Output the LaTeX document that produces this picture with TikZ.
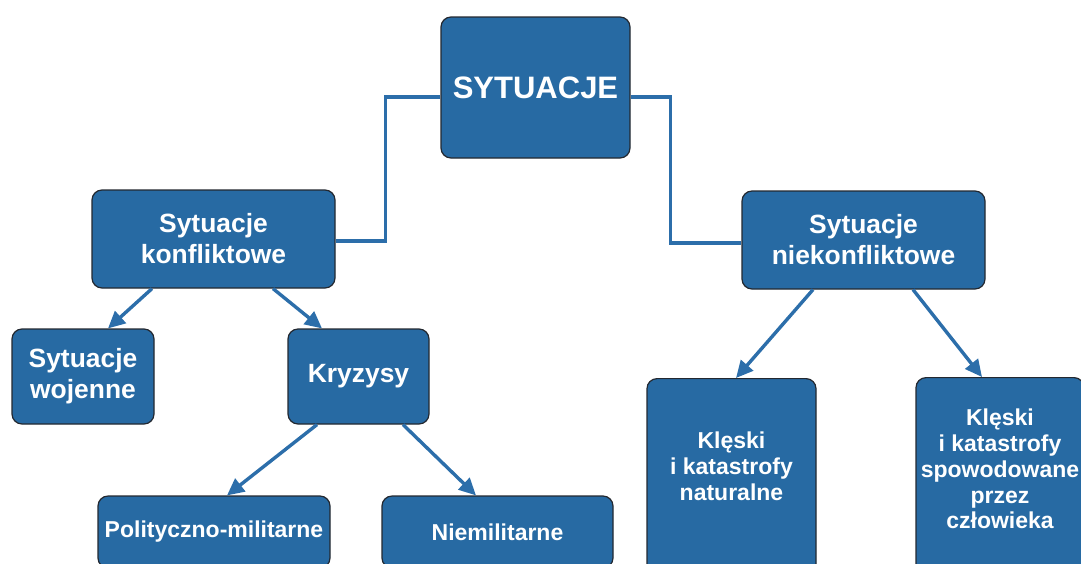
\documentclass[tikz,border=0pt]{standalone}
\usepackage{fontspec}
\setmainfont{Liberation Sans}
\usetikzlibrary{arrows.meta, positioning}
\definecolor{boxblue}{RGB}{39,106,163}
\definecolor{linkblue}{RGB}{44,110,170}
\definecolor{boxedge}{RGB}{35,40,48}

\begin{document}
\begin{tikzpicture}[x=0.5pt, y=-0.5pt,
    box/.style={draw=boxedge, line width=0.6pt, fill=boxblue, rounded corners=5pt, text=white, font=\bfseries\fontsize{13.2}{15.5}\selectfont, align=center, inner sep=0pt},
    small/.style={font=\bfseries\fontsize{11.5}{12.9}\selectfont},
    boxtext/.style={small, text=white, align=center, inner sep=0pt},
    link/.style={linkblue, line width=1.7pt},
    arrow/.style={link, -{Triangle[length=8.5pt, width=8pt]}}
  ]
  \clip (0,0) rectangle (1081,563);
  % top level
  \node[box, minimum width=94.5pt, minimum height=70.5pt, font=\bfseries\fontsize{15.5}{18}\selectfont] (root) at (535.5,87.5) {SYTUACJE};
  \node[box, minimum width=121.5pt, minimum height=49pt] (konf) at (213.5,239) {Sytuacje\\konfliktowe};
  \node[box, minimum width=121.5pt, minimum height=49pt] (niekonf) at (863.5,240) {Sytuacje\\niekonfliktowe};
  % left branch
  \node[box, minimum width=71pt, minimum height=47.5pt] (wojenne) at (83,376.5) {Sytuacje\\wojenne};
  \node[box, minimum width=70.5pt, minimum height=47.5pt] (kryzysy) at (358.5,376.5) {Kryzysy};
  \node[box, small, minimum width=116pt, minimum height=36pt] (polit) at (214,532) {Polityczno-militarne};
  \node[box, small, minimum width=115.5pt, minimum height=36pt] (niemil) at (497.5,532) {Niemilitarne};
  % right branch
  \node[box, anchor=north, minimum width=84.5pt, minimum height=120pt] (nat) at (731.5,378) {};
  \node[box, anchor=north, minimum width=84pt, minimum height=120pt] (spow) at (1000,377) {};
  \node[boxtext] (nat-text) at (731.5,466) {Klęski\\i katastrofy\\naturalne};
  \node[boxtext] (spow-text) at (1000,469) {Klęski\\i katastrofy\\spowodowane\\przez\\człowieka};
  % connectors
  \draw[link] ([yshift=-4.75pt]root.west) -- ++(-27.5pt,0) |- ([yshift=-1pt]konf.east);
  \draw[link] ([yshift=-4.75pt]root.east) -- ++(20pt,0) |- ([yshift=-1.5pt]niekonf.west);
  \draw[arrow] ([xshift=-30.75pt]konf.south) -- ([xshift=12.5pt]wojenne.north);
  \draw[arrow] ([xshift=29.75pt]konf.south) -- ([xshift=-18.25pt]kryzysy.north);
  \draw[arrow] ([xshift=-20.75pt]kryzysy.south) -- ([xshift=6.5pt]polit.north);
  \draw[arrow] ([xshift=22.25pt]kryzysy.south) -- ([xshift=-10.75pt]niemil.north);
  \draw[arrow] ([xshift=-25.25pt]niekonf.south) -- ([xshift=2.25pt]nat.north);
  \draw[arrow] ([xshift=24.75pt]niekonf.south) -- ([xshift=-9pt]spow.north);
\end{tikzpicture}
\end{document}
